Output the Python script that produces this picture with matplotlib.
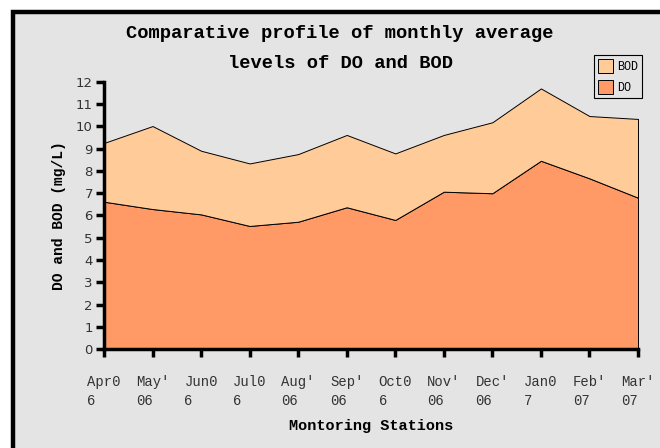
import matplotlib

matplotlib.use('Agg')

import matplotlib.pyplot as plt
from matplotlib.patches import Patch, Rectangle


months = ["Apr0\n6", "May'\n06", "Jun0\n6", "Jul0\n6", "Aug'\n06", "Sep'\n06",
          "Oct0\n6", "Nov'\n06", "Dec'\n06", "Jan0\n7", "Feb'\n07", "Mar'\n07"]
do_vals = [6.62, 6.29, 6.05, 5.53, 5.72, 6.37, 5.80, 7.07, 7.00, 8.46, 7.67, 6.80]
bod_vals = [2.64, 3.73, 2.86, 2.81, 3.04, 3.25, 2.99, 2.55, 3.19, 3.25, 2.80, 3.54]
y_ticks = list(range(0, 13))

BG = '#e4e4e4'
DO_COLOR = '#ff9966'
BOD_COLOR = '#ffcc99'
MONO = 'Liberation Mono'

fig = plt.figure(figsize=(6.6, 4.48), dpi=100)
fig.patch.set_facecolor('white')
fig.patches.append(Rectangle((12.5 / 660, -0.05), 1.0, 1 - 12 / 448 + 0.05,
                             transform=fig.transFigure, facecolor=BG,
                             edgecolor='black', linewidth=3.2, zorder=-5))

ax = fig.add_axes([104 / 660, 1 - 349 / 448, (638 - 104) / 660, (349 - 82) / 448])
ax.set_facecolor('none')

x = list(range(len(months)))
ax.stackplot(x, do_vals, bod_vals, colors=[DO_COLOR, BOD_COLOR],
             edgecolor='black', linewidth=0.7)

ax.set_xlim(0, len(months) - 1)
ax.set_ylim(0, 12)
ax.set_xticks(x)
ax.set_xticklabels(months, family=MONO, fontsize=10, multialignment='left', linespacing=1.45)
ax.set_yticks(y_ticks)
ax.tick_params(axis='y', labelsize=9.5, length=6, width=2.5, pad=2, colors='black',
               labelcolor='#333333')
ax.tick_params(axis='x', length=6, width=2.5, pad=13, labelcolor='#333333')
for side in ('top', 'right'):
    ax.spines[side].set_visible(False)
for side in ('left', 'bottom'):
    ax.spines[side].set_linewidth(2.5)

ax.set_xlabel('Montoring Stations', family=MONO, fontweight='bold', fontsize=11, labelpad=8)
ax.set_ylabel('DO and BOD (mg/L)', family=MONO, fontweight='bold', fontsize=10.5, labelpad=7)

fig.text(340 / 660, 1 - 48.5 / 448, 'Comparative profile of monthly average\nlevels of DO and BOD',
         ha='center', va='center', family=MONO, fontweight='bold', fontsize=13.5,
         linespacing=1.95)

handles = [Patch(facecolor=BOD_COLOR, edgecolor='black', linewidth=0.7, label='BOD'),
           Patch(facecolor=DO_COLOR, edgecolor='black', linewidth=0.7, label='DO')]
leg = fig.legend(handles=handles, loc='upper left', bbox_to_anchor=(594 / 660, 1 - 55 / 448),
                 prop={'family': MONO, 'size': 8.5}, frameon=True, fancybox=False,
                 facecolor=BG, edgecolor='black', framealpha=1, handlelength=1.3,
                 handleheight=1.4, handletextpad=0.3, borderpad=0.35, labelspacing=0.6,
                 borderaxespad=0)
leg.get_frame().set_linewidth(0.8)

fig.savefig('out.png', dpi=100)
